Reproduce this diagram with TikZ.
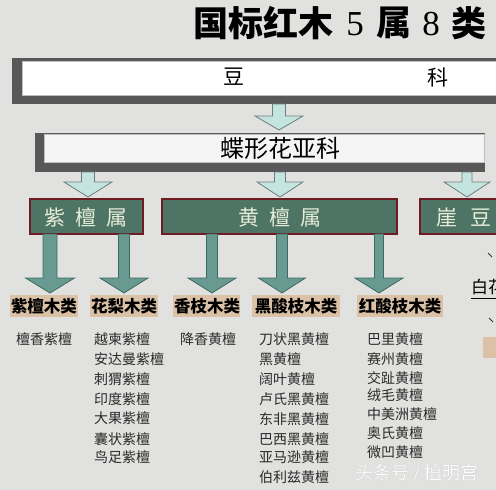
\documentclass[tikz,border=0pt]{standalone}
\usepackage{fontspec}
\setmainfont{Noto Sans CJK SC}
\newfontfamily\digserif{Liberation Serif}
\definecolor{bgc}{HTML}{E1E1DF}
\definecolor{frame}{HTML}{585858}
\definecolor{genfill}{HTML}{4E7466}
\definecolor{genbord}{HTML}{6E1C22}
\definecolor{gentext}{HTML}{E6ECD8}
\definecolor{tan}{HTML}{DBC2A6}
\definecolor{bigfill}{HTML}{689A91}
\definecolor{bigline}{HTML}{3F6A62}
\definecolor{smfill}{HTML}{C4E4E0}
\definecolor{smline}{HTML}{6D7F7D}
\definecolor{listc}{HTML}{2A2A2A}
\newcommand{\fsz}[1]{\fontsize{#1}{#1}\selectfont}
% block arrow: x, ytop, yneck, ytip, shaft half, head half, style
\newcommand{\blkarrow}[7]{%
  \draw[#7] (#1-#5,#2) -- (#1+#5,#2) -- (#1+#5,#3) -- (#1+#6,#3) -- (#1,#4)
     -- (#1-#6,#3) -- (#1-#5,#3) -- cycle;}
\tikzset{
  smarrow/.style={fill=smfill, draw=smline, line width=0.8pt, line join=miter},
  bigarrow/.style={fill=bigfill, draw=bigline, line width=0.8pt, line join=miter},
  genbox/.style={fill=genfill, draw=genbord, line width=2.8pt, inner sep=0pt},
  gentxt/.style={text=gentext, font=\fsz{21}, inner sep=0pt},
  clsbox/.style={fill=tan, inner sep=0pt, text=black, font=\fsz{16.5}\bfseries},
  item/.style={anchor=west, inner sep=0pt, text=listc, font=\fsz{14}},
}
\begin{document}
\begin{tikzpicture}[x=1pt, y=-1pt]
\useasboundingbox (0,0) rectangle (496,490);
\fill[bgc] (0,0) rectangle (496,490);
\begin{scope}
\clip (0,0) rectangle (496,490);

% title
\node[inner sep=0pt, font=\fsz{35}\bfseries] (t1) at (263,23) {国标红木};
\node[inner sep=0pt, font=\digserif\fsz{35}] (t2) at (355,24) {5};
\node[inner sep=0pt, font=\fsz{35}\bfseries] (t3) at (394,23) {属};
\node[inner sep=0pt, font=\digserif\fsz{35}] (t4) at (431,24) {8};
\node[inner sep=0pt, font=\fsz{35}\bfseries] (t5) at (469,23) {类};

% 豆科 bar
\fill[frame] (12,58) rectangle (510,104);
\draw[fill=white, draw=black!25, line width=0.6pt] (22,61) rectangle (510,95);
\node[inner sep=0pt, font=\fsz{21}] (dou1) at (234,77) {豆};
\node[inner sep=0pt, font=\fsz{21}] (dou2) at (438,77) {科};

% arrow to 蝶形花亚科
\blkarrow{279}{104}{116}{130}{6.5}{24}{smarrow}

% 蝶形花亚科 bar
\fill[frame] (35,133) rectangle (485,172);
\draw[fill=white!96!black, draw=black!25, line width=0.6pt] (44,134) rectangle (484,162);
\node[inner sep=0pt, font=\fsz{24}] (die) at (280,148) {蝶形花亚科};

% arrows to genera
\blkarrow{88}{172}{182}{197}{6.5}{24}{smarrow}
\blkarrow{280}{172}{182}{197}{5.5}{23}{smarrow}
\blkarrow{467}{172}{182}{197}{5}{23}{smarrow}

% genera
\draw[genbox] (30,199) rectangle (143,234);
\node[gentxt] (g1) at (86,217) {紫\hspace{10pt}檀\hspace{10pt}属};
\draw[genbox] (162,199) rectangle (397,234);
\node[gentxt] (g2) at (280,217) {黄\hspace{10pt}檀\hspace{10pt}属};
\draw[genbox] (420,199) rectangle (520,234);
\node[gentxt, anchor=west] (g3) at (436,217) {崖\hspace{13pt}豆};

% arrows to classes
\blkarrow{50}{234}{278}{293}{7}{24.5}{bigarrow}
\blkarrow{124}{234}{278}{293}{5.5}{24}{bigarrow}
\blkarrow{212}{234}{278}{293}{5.5}{24}{bigarrow}
\blkarrow{282}{234}{278}{293}{5.5}{23.5}{bigarrow}
\blkarrow{379}{234}{278}{293}{4.5}{24}{bigarrow}

% classes
\fill[tan] (10,295) rectangle (78,317);
\node[clsbox] (c1) at (44,306) {紫檀木类};
\fill[tan] (90,295) rectangle (158,317);
\node[clsbox] (c2) at (124,306) {花梨木类};
\fill[tan] (173,295) rectangle (240,317);
\node[clsbox] (c3) at (207,306) {香枝木类};
\fill[tan] (252,295) rectangle (340,317);
\node[clsbox] (c4) at (296,306) {黑酸枝木类};
\fill[tan] (357,295) rectangle (443,317);
\node[clsbox] (c5) at (400,306) {红酸枝木类};

% right partial elements
\node[inner sep=0pt, anchor=west, font=\fsz{17}] (bh) at (471,287) {白花};
\draw[black, line width=0.9pt] (471,298) -- (500,298);
\draw[black!80, line width=1pt] (488,253) -- (492,257);
\draw[black!80, line width=1pt] (489,318) -- (493,322);
\fill[tan] (483,337) rectangle (500,358);

% lists
\node[item] (a1) at (16,339) {檀香紫檀};

\node[item] (b1) at (94,339) {越柬紫檀};
\node[item] (b2) at (94,359) {安达曼紫檀};
\node[item] (b3) at (94,379) {刺猬紫檀};
\node[item] (b4) at (94,399) {印度紫檀};
\node[item] (b5) at (94,418) {大果紫檀};
\node[item] (b6) at (94,439) {囊状紫檀};
\node[item] (b7) at (94,457) {鸟足紫檀};

\node[item] (x1) at (180,339) {降香黄檀};

\node[item] (d1) at (259,339) {刀状黑黄檀};
\node[item] (d2) at (259,359) {黑黄檀};
\node[item] (d3) at (259,379) {阔叶黄檀};
\node[item] (d4) at (259,399) {卢氏黑黄檀};
\node[item] (d5) at (259,419) {东非黑黄檀};
\node[item] (d6) at (259,439) {巴西黑黄檀};
\node[item] (d7) at (259,457) {亚马逊黄檀};
\node[item] (d8) at (259,477) {伯利兹黄檀};

\node[item] (e1) at (367,339) {巴里黄檀};
\node[item] (e2) at (367,359) {赛州黄檀};
\node[item] (e3) at (367,378) {交趾黄檀};
\node[item] (e4) at (367,395) {绒毛黄檀};
\node[item] (e5) at (367,414) {中美洲黄檀};
\node[item] (e6) at (367,433) {奥氏黄檀};
\node[item] (e7) at (367,452) {微凹黄檀};

% watermark
\node[inner sep=0pt, anchor=west, font=\fsz{18}, text=black!35] (wm0) at (355.6,473.6) {头条号 / 檀明宫};
\node[inner sep=0pt, anchor=west, font=\fsz{18}, text=white] (wm) at (355,473) {头条号 / 檀明宫};
\end{scope}
\end{tikzpicture}
\end{document}
